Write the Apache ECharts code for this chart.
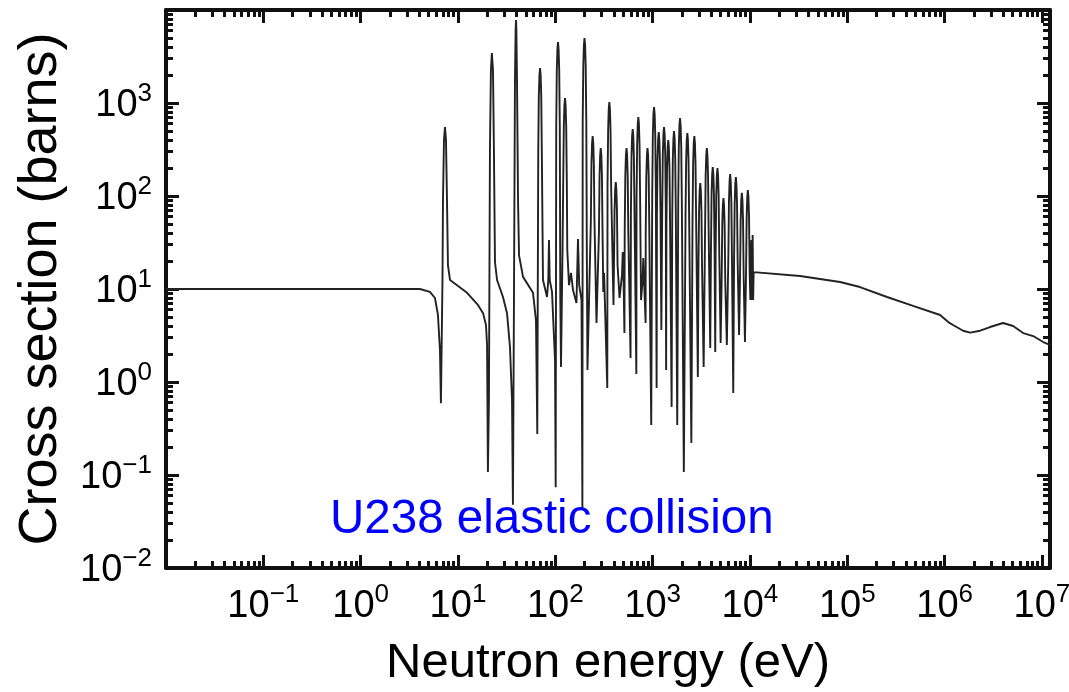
<!DOCTYPE html>
<html>
<head>
<meta charset="utf-8">
<title>U238 elastic</title>
<script src="https://cdn.jsdelivr.net/npm/echarts@6.0.0/dist/echarts.min.js"></script>
<style>
html, body { margin: 0; padding: 0; background: #fff; }
#main { width: 1069px; height: 692px; }
</style>
</head>
<body>
<div id="main"></div>
<script>
// thermal range + first three resonances (eV, barns)
var lowE = [0.01, 2.54, 4.06, 5.15, 5.8, 6.22, 6.53, 6.68, 6.93, 7.01, 7.18, 7.35, 7.53, 7.71, 7.89, 8.28,
    12.4, 16.1, 18.1, 19.4, 19.9, 20.3, 20.8, 21.3, 21.8, 22.3, 22.9, 23.4, 24.0, 25.2, 29.0, 31.9, 34.2,
    35.9, 36.7, 37.6, 38.5, 39.1, 39.5, 39.8, 40.4, 41.4, 42.4, 46.6, 59.0];
var lowS = [10, 10, 10, 9.3, 8.0, 5.3, 2.2, 0.59, 12.5, 90, 400, 550, 400, 90, 18, 12.5,
    9.1, 6.7, 5.5, 4.1, 2.5, 0.108, 0.64, 312, 2260, 3450, 2260, 312, 19.5, 12.5, 8.2, 5.5, 2.4,
    0.64, 0.048, 7.6, 1770, 6100, 7800, 6100, 1770, 90, 23, 13.5, 9.1];

// resonances 60 - 220 eV
var midE = [63.3, 65.3, 66.8, 67.7, 68.7, 69.7, 70.7, 71.7, 72.7, 74.7, 82.2, 84.7, 86.1, 87.6, 92.5,
    99.3, 100.9, 102.2, 103.6, 105.1, 106.6, 108.1, 109.7, 111.2, 112.6, 114.4, 118.6, 120.6, 122.3,
    124.0, 125.8, 127.6, 129.4, 131.3, 132.8, 138.3, 145, 152, 165, 171, 176, 185.9, 189.8, 191.2,
    193.9, 196.7, 199.5, 202.4, 205.2, 208.2, 211, 214];
var midS = [4.6, 0.276, 298, 1190, 1980, 2380, 1980, 1190, 298, 12.5, 8.2, 12.5, 33.6, 12.5, 9.3,
    1.73, 0.074, 565, 2260, 3770, 4520, 3770, 2260, 565, 7.6, 1.45, 26, 141, 565,
    942, 1130, 942, 565, 141, 26, 11, 14.9, 9.75, 7.06, 34.5, 11, 7.6, 0.044, 625,
    2500, 4170, 5000, 4170, 2500, 625, 20, 1.35];

// dense resonances 230 eV - 10 keV (one peak per row, then the dip before the next one)
var resE = [
    231.9, 235.2, 238.6, 242, 245.5, 249.0, 252.5, 265,
    280.8, 284.8, 288.9, 293, 297.2, 301.4, 305.7, 311, 317, 342,
    344.0, 349.0, 353.9, 359, 364.1, 369.3, 374.6, 396,
    400.6, 406.3, 412.1, 418, 424.0, 430.0, 436.2, 457,
    484, 493, 502, 513,
    516.5, 523.9, 531.4, 539, 546.7, 554.5, 562.4, 593,
    598.0, 606.5, 615.2, 624, 632.9, 642.0, 651.1, 680,
    683.3, 693.0, 702.9, 713, 723.2, 733.5, 744.0, 760,
    787, 802, 818, 847,
    849.1, 861.2, 873.5, 886, 898.7, 911.5, 924.5, 967,
    990.9, 1005, 1019, 1034, 1049, 1064, 1079, 1099,
    1107, 1123, 1139, 1155, 1172, 1188, 1205, 1229,
    1254, 1272, 1291, 1309, 1328, 1347, 1366, 1376,
    1387, 1407, 1427, 1447, 1468, 1489, 1510, 1567,
    1590, 1613, 1636, 1659, 1683, 1707, 1731, 1790,
    1832, 1858, 1885, 1912, 1939, 1967, 1995, 2092,
    2178, 2209, 2241, 2273, 2305, 2338, 2372, 2499,
    2570, 2607, 2644, 2682, 2720, 2759, 2799, 2914,
    2956, 2999, 3042, 3085, 3129, 3174, 3219, 3343,
    3456, 3505, 3555, 3606, 3658, 3710, 3763, 3908,
    3974, 4031, 4089, 4147, 4206, 4266, 4327, 4399,
    4441, 4504, 4569, 4634, 4700, 4767, 4836, 4998,
    5117, 5191, 5265, 5340, 5416, 5494, 5572, 5788,
    5997, 6083, 6170, 6258, 6347, 6438, 6530, 6734,
    6863, 6962, 7061, 7162, 7264, 7368, 7474, 7727,
    7910, 8023, 8138, 8254, 8372, 8492, 8613, 8883,
    9117, 9248, 9380, 9514, 9650, 9788, 9928, 10100,
    10330, 10480, 10660, 10780, 10910];
var resS = [
    55, 221, 368, 442, 368, 221, 55, 4.31,
    41, 164, 273, 328, 273, 164, 41, 9.3, 14.9, 0.86,
    128, 513, 854, 1025, 854, 513, 128, 6.73,
    18, 70, 118, 141, 118, 70, 18, 8.0,
    14, 25, 14, 3.36,
    41, 164, 273, 328, 273, 164, 41, 1.81,
    66, 263, 438, 525, 438, 263, 66, 1.22,
    88, 354, 589, 707, 589, 354, 88, 7.6,
    12, 21.5, 12, 4.31,
    41, 164, 273, 328, 273, 164, 41, 0.345,
    113, 453, 755, 906, 755, 453, 113, 0.86,
    61, 244, 406, 487, 406, 244, 61, 3.62,
    69, 276, 460, 552, 460, 276, 69, 1.35,
    50, 200, 333, 400, 333, 200, 50, 0.538,
    63, 250, 417, 500, 417, 250, 63, 0.345,
    86, 345, 574, 689, 574, 345, 86, 0.108,
    60, 238, 397, 476, 397, 238, 60, 0.221,
    55, 221, 368, 442, 368, 221, 55, 1.13,
    17, 69, 115, 138, 115, 69, 17, 1.45,
    41, 164, 273, 328, 273, 164, 41, 2.32,
    26, 103, 171, 205, 171, 103, 26, 2.1,
    25, 100, 167, 200, 167, 100, 25, 2.62,
    12, 48, 79, 95, 79, 48, 12, 2.5,
    22, 86, 143, 172, 143, 86, 22, 0.762,
    20, 80, 133, 160, 133, 80, 20, 3.2,
    14, 54, 90, 108, 90, 54, 14, 2.69,
    15, 58, 97, 116, 97, 58, 15, 7.6,
    33.6, 7.6, 38, 7.6, 15.2];

// fast neutron range
var fastE = [32700, 84300, 135000, 256000, 474000, 899000, 1090000, 1220000, 1550000, 1830000,
    2320000, 2930000, 3990000, 5060000, 6410000, 8120000, 10300000, 12100000];
var fastS = [13.8, 11.9, 10.5, 8.2, 6.57, 5.25, 4.41, 4.10, 3.56, 3.39,
    3.56, 3.9, 4.31, 4.0, 3.36, 3.12, 2.69, 2.5];

// axes: decade ticks and labels
var xMin = 0.01, xMax = 1.21e7;
var yMin = 0.01, yMax = 1e4;
var xLabels = [0.1, 1, 10, 100, 1000, 1e4, 1e5, 1e6, 1e7];
var yLabels = [0.01, 0.1, 1, 10, 100, 1000];
var fontName = 'Liberation Sans';

function decades(lo, hi) {
    var out = [];
    for (var k = lo; k <= hi; k++) out.push(Math.pow(10, k));
    return out;
}
function minors(lo, hi, max) {
    var out = [];
    for (var k = lo; k <= hi; k++) {
        for (var m = 2; m <= 9; m++) {
            var v = m * Math.pow(10, k);
            if (v < max) out.push(v);
        }
    }
    return out;
}
var xMajor = decades(-2, 7), xMinor = minors(-2, 6, xMax);
var yMajor = decades(-2, 4), yMinor = minors(-2, 3, yMax);

function powLabel(v) {
    var e = Math.round(Math.log(v) / Math.LN10);
    var s = e < 0 ? '\u2212' + (-e) : '' + e;
    return '{b|10}{s|' + s + '}';
}
var labelRich = {
    b: { fontSize: 38, fontFamily: fontName, color: '#000', lineHeight: 44, verticalAlign: 'bottom' },
    s: { fontSize: 26, fontFamily: fontName, color: '#000', lineHeight: 26, verticalAlign: 'top' }
};

function makeAxis(dim, pos, major, labels, name) {
    var isX = dim == 'x';
    var ax = {
        type: 'log',
        position: pos,
        min: isX ? xMin : yMin,
        max: isX ? xMax : yMax,
        splitLine: { show: false },
        axisLine: { show: major, onZero: false, lineStyle: { color: '#111', width: 4 } },
        axisTick: {
            show: true,
            inside: true,
            length: major ? 13 : 7,
            lineStyle: { color: '#111', width: 3 },
            customValues: major ? (isX ? xMajor : yMajor) : (isX ? xMinor : yMinor)
        },
        axisLabel: { show: false }
    };
    if (labels) {
        ax.axisLabel = {
            show: true,
            customValues: isX ? xLabels : yLabels,
            formatter: powLabel,
            rich: labelRich,
            margin: 14
        };
    }
    if (name) {
        ax.name = name;
        ax.nameLocation = 'middle';
        ax.nameGap = isX ? 71 : 98;
        ax.nameTextStyle = { fontSize: isX ? 49 : 54, fontFamily: fontName, color: '#000' };
    }
    return ax;
}

var points = [];
function addPart(es, ss) {
    for (var i = 0; i < es.length; i++) points.push([es[i], ss[i]]);
}
addPart(lowE, lowS);
addPart(midE, midS);
addPart(resE, resS);
addPart(fastE, fastS);

var myChart = echarts.init(document.getElementById('main'), null, { renderer: 'canvas' });
var option = {
    animation: false,
    backgroundColor: '#fff',
    grid: { left: 166, right: 19, top: 10, bottom: 124, outerBoundsMode: 'none' },
    xAxis: [
        makeAxis('x', 'bottom', true, true, 'Neutron energy (eV)'),
        makeAxis('x', 'bottom', false, false),
        makeAxis('x', 'top', true, false),
        makeAxis('x', 'top', false, false)
    ],
    yAxis: [
        makeAxis('y', 'left', true, true, 'Cross section (barns)'),
        makeAxis('y', 'left', false, false),
        makeAxis('y', 'right', true, false),
        makeAxis('y', 'right', false, false)
    ],
    graphic: [{
        type: 'text',
        left: 330,
        top: 496,
        z: 100,
        style: { text: 'U238 elastic collision', fill: '#0000ff', fontSize: 47.5, fontFamily: fontName }
    }],
    series: [{
        type: 'line',
        xAxisIndex: 0,
        yAxisIndex: 0,
        data: points,
        showSymbol: false,
        symbol: 'none',
        sampling: null,
        lineStyle: { color: '#222', width: 1.9 },
        clip: true
    }]
};
myChart.setOption(option);
</script>
</body>
</html>
